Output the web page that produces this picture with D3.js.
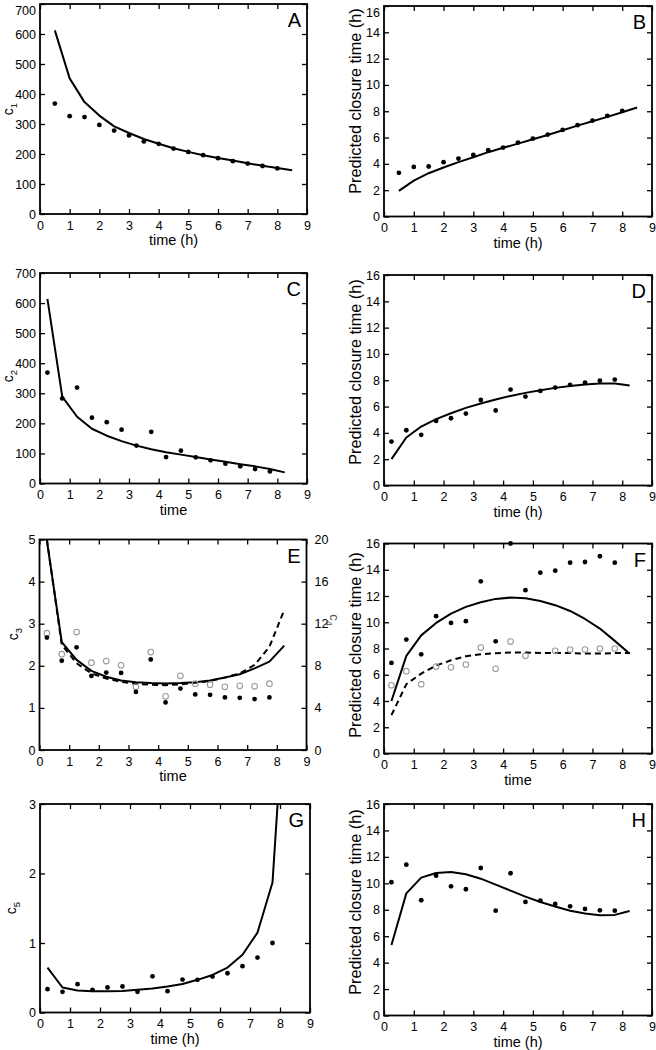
<!DOCTYPE html>
<html>
<head>
<meta charset="utf-8">
<script src="https://cdn.jsdelivr.net/npm/d3@7"></script>
<style>
  html, body { margin: 0; padding: 0; background: #fff; }
  svg { display: block; }
  text { font-family: "Liberation Sans", Arial, Helvetica, sans-serif; }
</style>
</head>
<body>
<script>
// ---------------- DATA ----------------
const xTicks = [0, 1, 2, 3, 4, 5, 6, 7, 8, 9];
const ticksC = [0, 100, 200, 300, 400, 500, 600, 700];
const ticksT = [0, 2, 4, 6, 8, 10, 12, 14, 16];
const ticksE = [0, 1, 2, 3, 4, 5];
const ticksE4 = [0, 4, 8, 12, 16, 20];
const ticksG = [0, 1, 2, 3];

// Panels A and B: observations every 0.5 h
const timeAB = [0.5, 1, 1.5, 2, 2.5, 3, 3.5, 4, 4.5, 5, 5.5, 6, 6.5, 7, 7.5, 8];
const timeABfit = [0.5, 1, 1.5, 2, 2.5, 3, 3.5, 4, 4.5, 5, 5.5, 6, 6.5, 7, 7.5, 8, 8.5];
const c1Obs = [368, 326, 323, 297, 278, 262, 242, 234, 218, 207, 196, 186, 176, 168, 160, 152];
const c1Fit = [612, 452, 373, 328, 292, 270, 250, 234, 219, 207, 196, 187, 178, 169, 161, 153, 146];
const closureBObs = [3.32, 3.77, 3.8, 4.13, 4.4, 4.68, 5.04, 5.24, 5.62, 5.92, 6.23, 6.58, 6.94, 7.29, 7.65, 8.03];
const closureBFit = [1.95, 2.73, 3.29, 3.72, 4.13, 4.5, 4.89, 5.22, 5.54, 5.87, 6.2, 6.56, 6.91, 7.24, 7.57, 7.92, 8.28];

// Panels C-H: observations at mid-interval times
const timeMid = [0.25, 0.75, 1.25, 1.75, 2.25, 2.75, 3.25, 3.75, 4.25, 4.75, 5.25, 5.75, 6.25, 6.75, 7.25, 7.75];
const timeMidFit = [0.25, 0.75, 1.25, 1.75, 2.25, 2.75, 3.25, 3.75, 4.25, 4.75, 5.25, 5.75, 6.25, 6.75, 7.25, 7.75, 8.25];

const c2Obs = [369, 283, 319, 219, 204, 179, 126, 172, 88, 109, 87, 77, 66, 57, 48, 40];
const c2Fit = [614, 289, 222, 182, 159, 141, 126, 114, 104, 96, 88, 80, 72, 64, 57, 48, 37];
const closureDObs = [3.34, 4.2, 3.85, 4.91, 5.11, 5.47, 6.5, 5.7, 7.29, 6.76, 7.19, 7.44, 7.65, 7.82, 7.97, 8.05];
const closureDFit = [2.0, 3.65, 4.48, 5.04, 5.49, 5.9, 6.23, 6.53, 6.81, 7.04, 7.24, 7.42, 7.57, 7.67, 7.75, 7.75, 7.6];

const c3Obs = [2.67, 2.12, 2.44, 1.76, 1.84, 1.83, 1.38, 2.15, 1.13, 1.46, 1.32, 1.31, 1.25, 1.24, 1.21, 1.25];
const c3Fit = [4.97, 2.56, 2.14, 1.88, 1.74, 1.65, 1.61, 1.59, 1.58, 1.59, 1.61, 1.65, 1.72, 1.8, 1.94, 2.1, 2.48];
const c4Obs = [11.1, 9.1, 11.2, 8.3, 8.45, 8.05, 6.0, 9.3, 5.1, 7.05, 6.3, 6.2, 6.0, 6.1, 6.05, 6.3];
const c4Fit = [20.0, 10.0, 8.24, 7.28, 6.8, 6.48, 6.28, 6.2, 6.16, 6.24, 6.4, 6.56, 6.88, 7.28, 8.08, 9.8, 13.3];

const closureFObs1 = [6.9, 8.68, 7.56, 10.46, 9.95, 10.08, 13.12, 8.55, 16.0, 12.44, 13.78, 13.93, 14.54, 14.59, 15.03, 14.54];
const closureFFit1 = [4.0, 7.44, 9.0, 9.95, 10.66, 11.17, 11.52, 11.78, 11.88, 11.83, 11.62, 11.3, 10.86, 10.25, 9.52, 8.58, 7.6];
const timeFObs2 = [0.25, 0.75, 1.25, 1.75, 2.25, 2.75, 3.25, 3.75, 4.25, 4.75, 5.75, 6.25, 6.75, 7.25, 7.75];
const closureFObs2 = [5.2, 6.27, 5.28, 6.62, 6.57, 6.78, 8.07, 6.45, 8.53, 7.44, 7.82, 7.92, 7.92, 8.0, 8.0];
const closureFFit2 = [2.92, 5.28, 6.09, 6.7, 7.1, 7.41, 7.56, 7.64, 7.69, 7.69, 7.66, 7.66, 7.66, 7.61, 7.61, 7.66, 7.66];

const c5Obs = [0.335, 0.297, 0.407, 0.326, 0.36, 0.374, 0.297, 0.52, 0.307, 0.474, 0.47, 0.517, 0.565, 0.666, 0.79, 1.0];
const c5Fit = [0.647, 0.36, 0.316, 0.307, 0.307, 0.31, 0.326, 0.345, 0.374, 0.41, 0.47, 0.54, 0.647, 0.83, 1.15, 1.87, 5.2];
const closureHObs = [10.08, 11.41, 8.72, 10.58, 9.77, 9.55, 11.16, 7.93, 10.76, 8.59, 8.69, 8.44, 8.26, 8.06, 7.96, 7.93];
const closureHFit = [5.34, 9.24, 10.43, 10.78, 10.86, 10.68, 10.35, 9.9, 9.45, 8.99, 8.59, 8.24, 7.93, 7.71, 7.58, 7.61, 7.91];

// ---------------- DRAWING ----------------
const svg = d3.select("body").append("svg").attr("width", 656).attr("height", 1050);
const FONT = '"Liberation Sans", Arial, Helvetica, sans-serif';

function zip(xs, ys) { return xs.map((v, i) => [v, ys[i]]); }

let clipId = 0;
function panel(cfg) {
  const { l, r, t, b } = cfg.frame;
  const x = d3.scaleLinear().domain([0, 9]).range([l, r]);
  const y = d3.scaleLinear().domain([0, cfg.ymax]).range([b, t]);
  const y2 = cfg.y2max ? d3.scaleLinear().domain([0, cfg.y2max]).range([b, t]) : null;
  const g = svg.append("g");

  const id = "clip" + (clipId++);
  g.append("clipPath").attr("id", id).append("rect")
    .attr("x", l).attr("y", t).attr("width", r - l).attr("height", b - t);

  const styleAxis = sel => {
    sel.select(".domain").remove();
    sel.selectAll(".tick line").attr("stroke", "#000").attr("stroke-width", 1.3);
    sel.selectAll(".tick text").attr("fill", "#000").style("font-family", FONT).style("font-size", "12.5px");
    // keep labels that sit at the very top edge inside the picture
    sel.selectAll(".tick").each(function (d) {
      const tr = this.getAttribute("transform") || "";
      const m = tr.match(/translate\(([-\d.]+),([-\d.]+)\)/);
      if (m && +m[2] < 8) d3.select(this).select("text").attr("dy", "0.85em");
    });
  };

  g.append("g").attr("transform", `translate(0,${b})`)
    .call(d3.axisBottom(x).tickValues(xTicks).tickFormat(d3.format("d")).tickSizeInner(-5).tickSizeOuter(0).tickPadding(5))
    .call(styleAxis);
  g.append("g").attr("transform", `translate(0,${t})`)
    .call(d3.axisTop(x).tickValues(xTicks).tickFormat("").tickSizeInner(-5).tickSizeOuter(0))
    .call(styleAxis);
  g.append("g").attr("transform", `translate(${l},0)`)
    .call(d3.axisLeft(y).tickValues(cfg.yTicks).tickFormat(d3.format("d")).tickSizeInner(-5).tickSizeOuter(0).tickPadding(4))
    .call(styleAxis);
  if (y2) {
    g.append("g").attr("transform", `translate(${r},0)`)
      .call(d3.axisRight(y2).tickValues(cfg.y2Ticks).tickFormat(d3.format("d")).tickSizeInner(-5).tickSizeOuter(0).tickPadding(8))
      .call(styleAxis);
  } else {
    g.append("g").attr("transform", `translate(${r},0)`)
      .call(d3.axisRight(y).tickValues(cfg.yTicks).tickFormat("").tickSizeInner(-5).tickSizeOuter(0))
      .call(styleAxis);
  }

  const plot = g.append("g").attr("clip-path", `url(#${id})`);
  const line = sc => d3.line().x(d => x(d[0])).y(d => sc(d[1]));

  (cfg.lines || []).forEach(s => {
    const sc = s.right ? y2 : y;
    plot.append("path").datum(zip(s.x, s.y))
      .attr("d", line(sc)).attr("fill", "none").attr("stroke", "#000")
      .attr("stroke-width", 2).attr("stroke-linejoin", "round")
      .attr("stroke-dasharray", s.dashed ? "6,4" : null);
  });

  (cfg.dots || []).forEach(s => {
    const sc = s.right ? y2 : y;
    g.append("g").selectAll("circle").data(zip(s.x, s.y)).join("circle")
      .attr("cx", d => x(d[0])).attr("cy", d => sc(d[1]))
      .attr("r", s.open ? 2.8 : 2.4)
      .attr("fill", s.open ? "none" : "#000")
      .attr("stroke", s.open ? "#9a9a9a" : "none")
      .attr("stroke-width", 1.1);
  });

  g.append("rect").attr("x", l).attr("y", t).attr("width", r - l).attr("height", b - t)
    .attr("fill", "none").attr("stroke", "#000").attr("stroke-width", 1.8);

  // panel letter
  g.append("text").attr("x", r - 6).attr("y", t + 23).attr("text-anchor", "end")
    .style("font-family", FONT).style("font-size", "20px").text(cfg.letter);

  // x title
  g.append("text").attr("x", (l + r) / 2).attr("y", b + 31).attr("text-anchor", "middle")
    .style("font-family", FONT).style("font-size", "14.5px").text(cfg.xTitle);

  // y title
  const yt = g.append("text")
    .attr("transform", `translate(${cfg.yTitlePos[0]},${cfg.yTitlePos[1]}) rotate(-90)`)
    .attr("text-anchor", "middle")
    .style("font-family", FONT);
  if (cfg.ySub) {
    yt.style("font-size", "14px");
    yt.append("tspan").text(cfg.yTitle);
    yt.append("tspan").attr("dy", 4).style("font-size", "9.5px").text(cfg.ySub);
  } else {
    yt.style("font-size", "16.3px").text(cfg.yTitle);
  }

  if (cfg.y2Title) {
    const t2 = g.append("text")
      .attr("transform", `translate(${cfg.y2TitlePos[0]},${cfg.y2TitlePos[1]}) rotate(90)`)
      .attr("text-anchor", "middle").attr("fill", "#555")
      .style("font-family", FONT).style("font-size", "13px");
    t2.append("tspan").text(cfg.y2Title);
    t2.append("tspan").attr("dy", 4).style("font-size", "9px").text(cfg.y2Sub);
  }
}

// A
panel({
  frame: { l: 40, r: 307, t: 4, b: 214 }, ymax: 700, yTicks: ticksC, letter: "A",
  xTitle: "time (h)", yTitle: "c", ySub: "1", yTitlePos: [13, 109],
  lines: [{ x: timeABfit, y: c1Fit }],
  dots: [{ x: timeAB, y: c1Obs }]
});
// B
panel({
  frame: { l: 384, r: 652, t: 6, b: 216.5 }, ymax: 16, yTicks: ticksT, letter: "B",
  xTitle: "time (h)", yTitle: "Predicted closure time (h)", yTitlePos: [361, 101],
  lines: [{ x: timeABfit, y: closureBFit }],
  dots: [{ x: timeAB, y: closureBObs }]
});
// C
panel({
  frame: { l: 40, r: 307, t: 273, b: 483.5 }, ymax: 700, yTicks: ticksC, letter: "C",
  xTitle: "time", yTitle: "c", ySub: "2", yTitlePos: [13, 376],
  lines: [{ x: timeMidFit, y: c2Fit }],
  dots: [{ x: timeMid, y: c2Obs }]
});
// D
panel({
  frame: { l: 384, r: 652, t: 275, b: 485.5 }, ymax: 16, yTicks: ticksT, letter: "D",
  xTitle: "time (h)", yTitle: "Predicted closure time (h)", yTitlePos: [361, 372],
  lines: [{ x: timeMidFit, y: closureDFit }],
  dots: [{ x: timeMid, y: closureDObs }]
});
// E
panel({
  frame: { l: 39.5, r: 306.5, t: 539.5, b: 750 }, ymax: 5, yTicks: ticksE, letter: "E",
  y2max: 20, y2Ticks: ticksE4,
  xTitle: "time", yTitle: "c", ySub: "3", yTitlePos: [18, 634],
  y2Title: "c", y2Sub: "4", y2TitlePos: [330, 620],
  lines: [{ x: timeMidFit, y: c3Fit }, { x: timeMidFit, y: c4Fit, right: true, dashed: true }],
  dots: [{ x: timeMid, y: c4Obs, right: true, open: true }, { x: timeMid, y: c3Obs }]
});
// F
panel({
  frame: { l: 384, r: 652, t: 543.5, b: 753.5 }, ymax: 16, yTicks: ticksT, letter: "F",
  xTitle: "time", yTitle: "Predicted closure time (h)", yTitlePos: [361, 645],
  lines: [{ x: timeMidFit, y: closureFFit1 }, { x: timeMidFit, y: closureFFit2, dashed: true }],
  dots: [{ x: timeFObs2, y: closureFObs2, open: true }, { x: timeMid, y: closureFObs1 }]
});
// G
panel({
  frame: { l: 40, r: 310, t: 804, b: 1012.5 }, ymax: 3, yTicks: ticksG, letter: "G",
  xTitle: "time (h)", yTitle: "c", ySub: "5", yTitlePos: [16, 908],
  lines: [{ x: timeMidFit, y: c5Fit }],
  dots: [{ x: timeMid, y: c5Obs }]
});
// H
panel({
  frame: { l: 384, r: 652, t: 804, b: 1015.5 }, ymax: 16, yTicks: ticksT, letter: "H",
  xTitle: "time (h)", yTitle: "Predicted closure time (h)", yTitlePos: [361, 902],
  lines: [{ x: timeMidFit, y: closureHFit }],
  dots: [{ x: timeMid, y: closureHObs }]
});
</script>
</body>
</html>
